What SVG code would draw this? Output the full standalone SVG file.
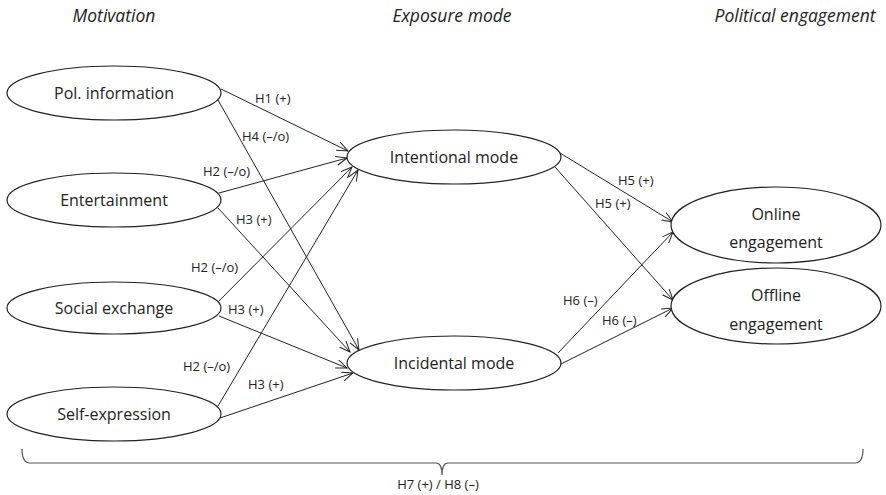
<svg xmlns="http://www.w3.org/2000/svg" width="886" height="495" viewBox="0 0 886 495">
<defs>
<marker id="arr" markerUnits="userSpaceOnUse" markerWidth="14" markerHeight="12" refX="11" refY="5" orient="auto">
<path d="M0,0.5 L11,5 L0,9.5" fill="none" stroke="#222" stroke-width="1"/>
</marker>
</defs>
<style>
.node ellipse{fill:#fff;stroke:#222;stroke-width:1.2}
.nl{font-family:"Open Sans","Noto Sans",sans-serif;font-size:16px;fill:#222;text-anchor:middle}
.el{font-family:"Open Sans","Noto Sans",sans-serif;font-size:13px;fill:#222}
.hd{font-family:"Open Sans","Noto Sans",sans-serif;font-size:17.5px;font-style:italic;fill:#222;text-anchor:middle}
#edges line{stroke:#222;stroke-width:1;marker-end:url(#arr)}
</style>
<rect width="886" height="495" fill="#fff"/>
<g id="headers">
<text class="hd" x="114" y="22">Motivation</text>
<text class="hd" x="452" y="22">Exposure mode</text>
<text class="hd" x="795" y="22">Political engagement</text>
</g>
<g id="edges">
<line x1="221" y1="89" x2="348" y2="151"/>
<line x1="218" y1="100" x2="359" y2="350"/>
<line x1="219" y1="193" x2="347" y2="158"/>
<line x1="218" y1="208" x2="350" y2="352"/>
<line x1="218" y1="302" x2="352" y2="167"/>
<line x1="219" y1="316" x2="347" y2="368"/>
<line x1="218" y1="406" x2="358" y2="170"/>
<line x1="220" y1="418" x2="353" y2="373"/>
<line x1="560" y1="153" x2="673" y2="222"/>
<line x1="555" y1="167" x2="673" y2="300"/>
<line x1="558" y1="353" x2="673" y2="232"/>
<line x1="561" y1="364" x2="673" y2="308"/>
</g>
<g id="edge-labels">
<text class="el" x="255" y="103">H1 (+)</text>
<text class="el" x="242" y="141">H4 (–/o)</text>
<text class="el" x="203" y="176">H2 (–/o)</text>
<text class="el" x="236" y="224">H3 (+)</text>
<text class="el" x="191" y="272">H2 (–/o)</text>
<text class="el" x="228" y="314">H3 (+)</text>
<text class="el" x="183" y="371">H2 (–/o)</text>
<text class="el" x="248" y="389">H3 (+)</text>
<text class="el" x="618" y="185">H5 (+)</text>
<text class="el" x="595" y="208">H5 (+)</text>
<text class="el" x="563" y="305">H6 (–)</text>
<text class="el" x="602" y="325">H6 (–)</text>
</g>
<g id="pol-information" class="node"><ellipse cx="114" cy="93" rx="107" ry="27"/><text class="nl" x="114" y="99">Pol. information</text></g>
<g id="entertainment" class="node"><ellipse cx="114" cy="200" rx="107" ry="27"/><text class="nl" x="114" y="206">Entertainment</text></g>
<g id="social-exchange" class="node"><ellipse cx="114" cy="308" rx="107" ry="26"/><text class="nl" x="114" y="314">Social exchange</text></g>
<g id="self-expression" class="node"><ellipse cx="114" cy="414" rx="107" ry="27"/><text class="nl" x="114" y="420">Self-expression</text></g>
<g id="intentional-mode" class="node"><ellipse cx="454" cy="157" rx="107" ry="27"/><text class="nl" x="454" y="163">Intentional mode</text></g>
<g id="incidental-mode" class="node"><ellipse cx="454" cy="363" rx="107" ry="27"/><text class="nl" x="454" y="369">Incidental mode</text></g>
<g id="online-engagement" class="node"><ellipse cx="776" cy="225" rx="105" ry="38"/><text class="nl" x="776" y="220">Online</text><text class="nl" x="776" y="248">engagement</text></g>
<g id="offline-engagement" class="node"><ellipse cx="776" cy="306" rx="105" ry="38"/><text class="nl" x="776" y="301">Offline</text><text class="nl" x="776" y="330">engagement</text></g>
<g id="bracket">
<path d="M22,449 Q22,463 30,463 H436 Q442,463 442,475 Q442,463 448,463 H855 Q863,463 863,449" fill="none" stroke="#555" stroke-width="1.2"/>
<text class="el" x="438" y="489" text-anchor="middle">H7 (+) / H8 (–)</text>
</g>
</svg>
